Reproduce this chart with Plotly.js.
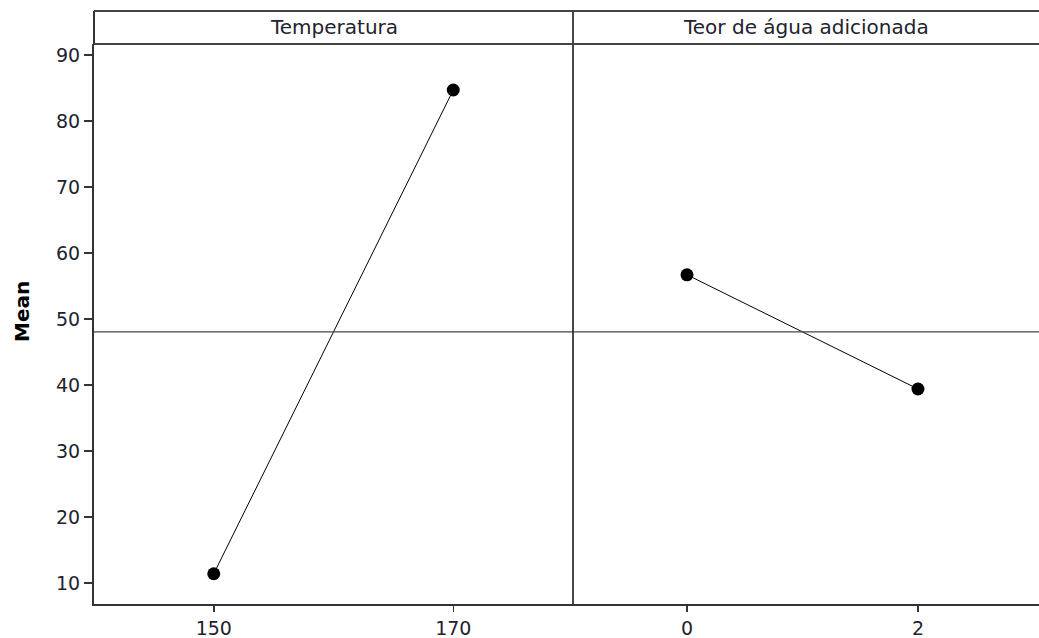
<!DOCTYPE html>
<html>
<head>
<meta charset="utf-8">
<script src="https://cdn.plot.ly/plotly-3.0.1.min.js"></script>
<style>html,body{margin:0;padding:0;background:#fff;}#chart{width:1039px;height:638px;}</style>
</head>
<body>
<div id="chart"></div>
<script>
// Data
const panelTitles = ['Temperatura', 'Teor de água adicionada'];
const tempLevels = ['150', '170'];
const tempMeans = [11.4, 84.7];
const waterLevels = ['0', '2'];
const waterMeans = [56.7, 39.4];
const yTicks = [10, 20, 30, 40, 50, 60, 70, 80, 90];
const yTitle = 'Mean';

const allVals = tempMeans.concat(waterMeans);
const grandMean = allVals.reduce((a, b) => a + b, 0) / allVals.length;

const split = 479 / 945;
const headerTop = 1 + 33 / 560;
const txt = '#22222e';
const font = {family: 'DejaVu Sans, Verdana, sans-serif', size: 19, color: txt};
const headFont = {family: 'DejaVu Sans, Verdana, sans-serif', size: 20, color: txt};

const markerStyle = {symbol: 'circle', size: 13, color: '#000'};
const lineStyle = {color: '#000', width: 1};

const traces = [
  {x: tempLevels, y: tempMeans, xaxis: 'x', yaxis: 'y', mode: 'lines+markers',
   marker: markerStyle, line: lineStyle, hoverinfo: 'x+y'},
  {x: waterLevels, y: waterMeans, xaxis: 'x2', yaxis: 'y', mode: 'lines+markers',
   marker: markerStyle, line: lineStyle, hoverinfo: 'x+y'}
];

const axisCommon = {
  type: 'category', showgrid: false, zeroline: false, showline: true,
  linecolor: '#333', linewidth: 2, ticks: 'outside', ticklen: 6, tickwidth: 1.5,
  tickcolor: '#333', tickfont: font, fixedrange: true
};

const layout = {
  width: 1039, height: 638,
  margin: {l: 94, r: 0, t: 44, b: 34},
  paper_bgcolor: '#fff', plot_bgcolor: '#fff',
  showlegend: false,
  font: font,
  xaxis: Object.assign({}, axisCommon, {domain: [0, split], range: [-0.5, 1.5], anchor: 'y'}),
  xaxis2: Object.assign({}, axisCommon, {domain: [split, 1], range: [-0.4935, 1.524], anchor: 'y'}),
  yaxis: {
    range: [6.82, 91.67], tickvals: yTicks, ticktext: yTicks.map(String),
    showgrid: false, zeroline: false, showline: true, linecolor: '#333', linewidth: 2,
    ticks: 'outside', ticklen: 8, tickwidth: 1.5, tickcolor: '#333', tickfont: font,
    fixedrange: true
  },
  shapes: [
    // grand mean reference line
    {type: 'line', xref: 'paper', yref: 'y', x0: 0, x1: 1, y0: grandMean, y1: grandMean,
     line: {color: '#444', width: 1.2}},
    // panel divider
    {type: 'line', xref: 'paper', yref: 'paper', x0: split, x1: split, y0: 0, y1: headerTop,
     line: {color: '#333', width: 1.8}},
    // left border extension into header
    {type: 'line', xref: 'paper', yref: 'paper', x0: 0, x1: 0, y0: 1, y1: headerTop,
     line: {color: '#333', width: 2}},
    // header top line
    {type: 'line', xref: 'paper', yref: 'paper', x0: 0, x1: 1, y0: headerTop, y1: headerTop,
     line: {color: '#444', width: 2}},
    // header bottom line
    {type: 'line', xref: 'paper', yref: 'paper', x0: 0, x1: 1, y0: 1, y1: 1,
     line: {color: '#444', width: 2}}
  ],
  annotations: [
    {text: panelTitles[0], xref: 'paper', yref: 'paper', x: split / 2, y: (1 + headerTop) / 2,
     xanchor: 'center', yanchor: 'middle', showarrow: false, font: headFont},
    {text: panelTitles[1], xref: 'paper', yref: 'paper', x: (split + 1) / 2, y: (1 + headerTop) / 2,
     xanchor: 'center', yanchor: 'middle', showarrow: false, font: headFont},
    {text: '<b>' + yTitle + '</b>', xref: 'paper', yref: 'paper', x: -72 / 945, y: 292 / 560,
     xanchor: 'center', yanchor: 'middle', showarrow: false, textangle: -90,
     font: {family: 'DejaVu Sans, Verdana, sans-serif', size: 20, color: '#000'}}
  ]
};

Plotly.newPlot('chart', traces, layout, {displayModeBar: false, staticPlot: true});
</script>
</body>
</html>
